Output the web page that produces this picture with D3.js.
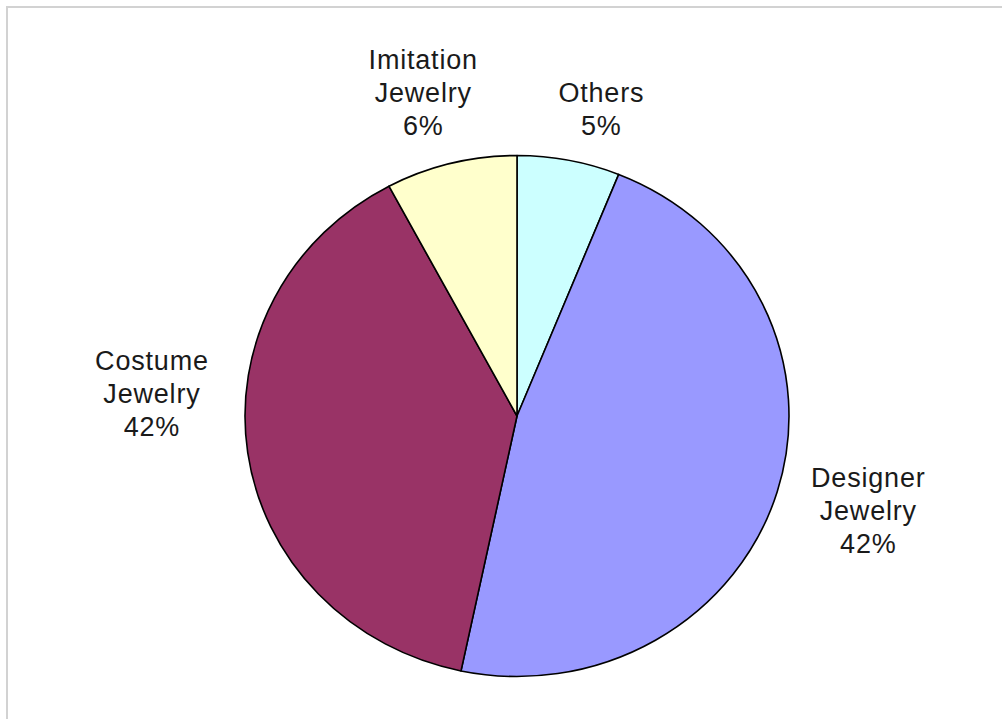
<!DOCTYPE html>
<html>
  <head>
    <meta charset="utf-8" />
    <script src="https://cdn.jsdelivr.net/npm/d3@7"></script>
    <style>
      html, body { margin: 0; padding: 0; background: #fff; }
      svg { display: block; }
      .label text { font-family: 'Liberation Sans', Arial, sans-serif; font-size: 27px; fill: #1a1a1a; letter-spacing: 0.8px; }
    </style>
  </head>
  <body>
    <svg id="chart"></svg>
    <script>
      // slices, clockwise from 12 o'clock
      const categories = ["Others", "Designer Jewelry", "Costume Jewelry", "Imitation Jewelry"]
      const shares = [6.1, 47.2, 38.9, 7.8]          // slice sizes as drawn
      const labelPercents = ["5%", "42%", "42%", "6%"] // text printed on the labels
      const colors = ["#CCFFFF", "#9999FF", "#993366", "#FFFFCC"]

      const width = 1002
      const height = 719
      const cx = 517, cy = 416
      const rx = 272, ry = 260.5

      // Excel puts each label just off the rim, these nudge them to where it put them
      const nudge = {
        "Others": [17, 25],
        "Designer Jewelry": [13, -5],
        "Costume Jewelry": [-15, -71],
        "Imitation Jewelry": [-8, 5],
      }
      const lineH = 33
      const capH = 20

      const data = categories.map((c, i) => ({name: c, value: shares[i], pct: labelPercents[i], color: colors[i]}))

      const svg = d3.select("#chart")
        .attr("width", width)
        .attr("height", height)

      // plot-area frame, right and bottom edges run off the picture
      svg.append("rect")
        .attr("x", 7).attr("y", 7)
        .attr("width", width + 20).attr("height", height + 20)
        .attr("fill", "none")
        .attr("stroke", "#d2d2d2")
        .attr("stroke-width", 2)

      const pie = d3.pie().sort(null).value(d => d.value)
      const arcs = pie(data)
      const arc = d3.arc().innerRadius(0).outerRadius(ry)

      const g = svg.append("g")
        .attr("transform", `translate(${cx},${cy}) scale(${rx / ry},1)`)

      g.selectAll("path")
        .data(arcs)
        .join("path")
          .attr("d", arc)
          .attr("fill", d => d.data.color)
          .attr("stroke", "#000")
          .attr("stroke-width", 1.6)
          .attr("stroke-linejoin", "round")
          .attr("vector-effect", "non-scaling-stroke")

      const k = 1.3
      const labels = svg.append("g").attr("class", "label")
        .selectAll("g")
        .data(arcs)
        .join("g")
          .attr("transform", d => {
            const a = (d.startAngle + d.endAngle) / 2
            const [nx, ny] = nudge[d.data.name]
            const x = cx + Math.sin(a) * rx * k + nx
            const y = cy - Math.cos(a) * ry * k + ny
            return `translate(${x},${y})`
          })

      labels.each(function(d) {
        const words = d.data.name.split(" ")
        const lines = words.concat([d.data.pct])
        const blockH = (lines.length - 1) * lineH + capH
        const t = d3.select(this).append("text").attr("text-anchor", "middle")
        lines.forEach((l, i) => {
          t.append("tspan")
            .attr("x", 0)
            .attr("y", -blockH / 2 + capH + i * lineH)
            .text(l)
        })
      })
    </script>
  </body>
</html>
